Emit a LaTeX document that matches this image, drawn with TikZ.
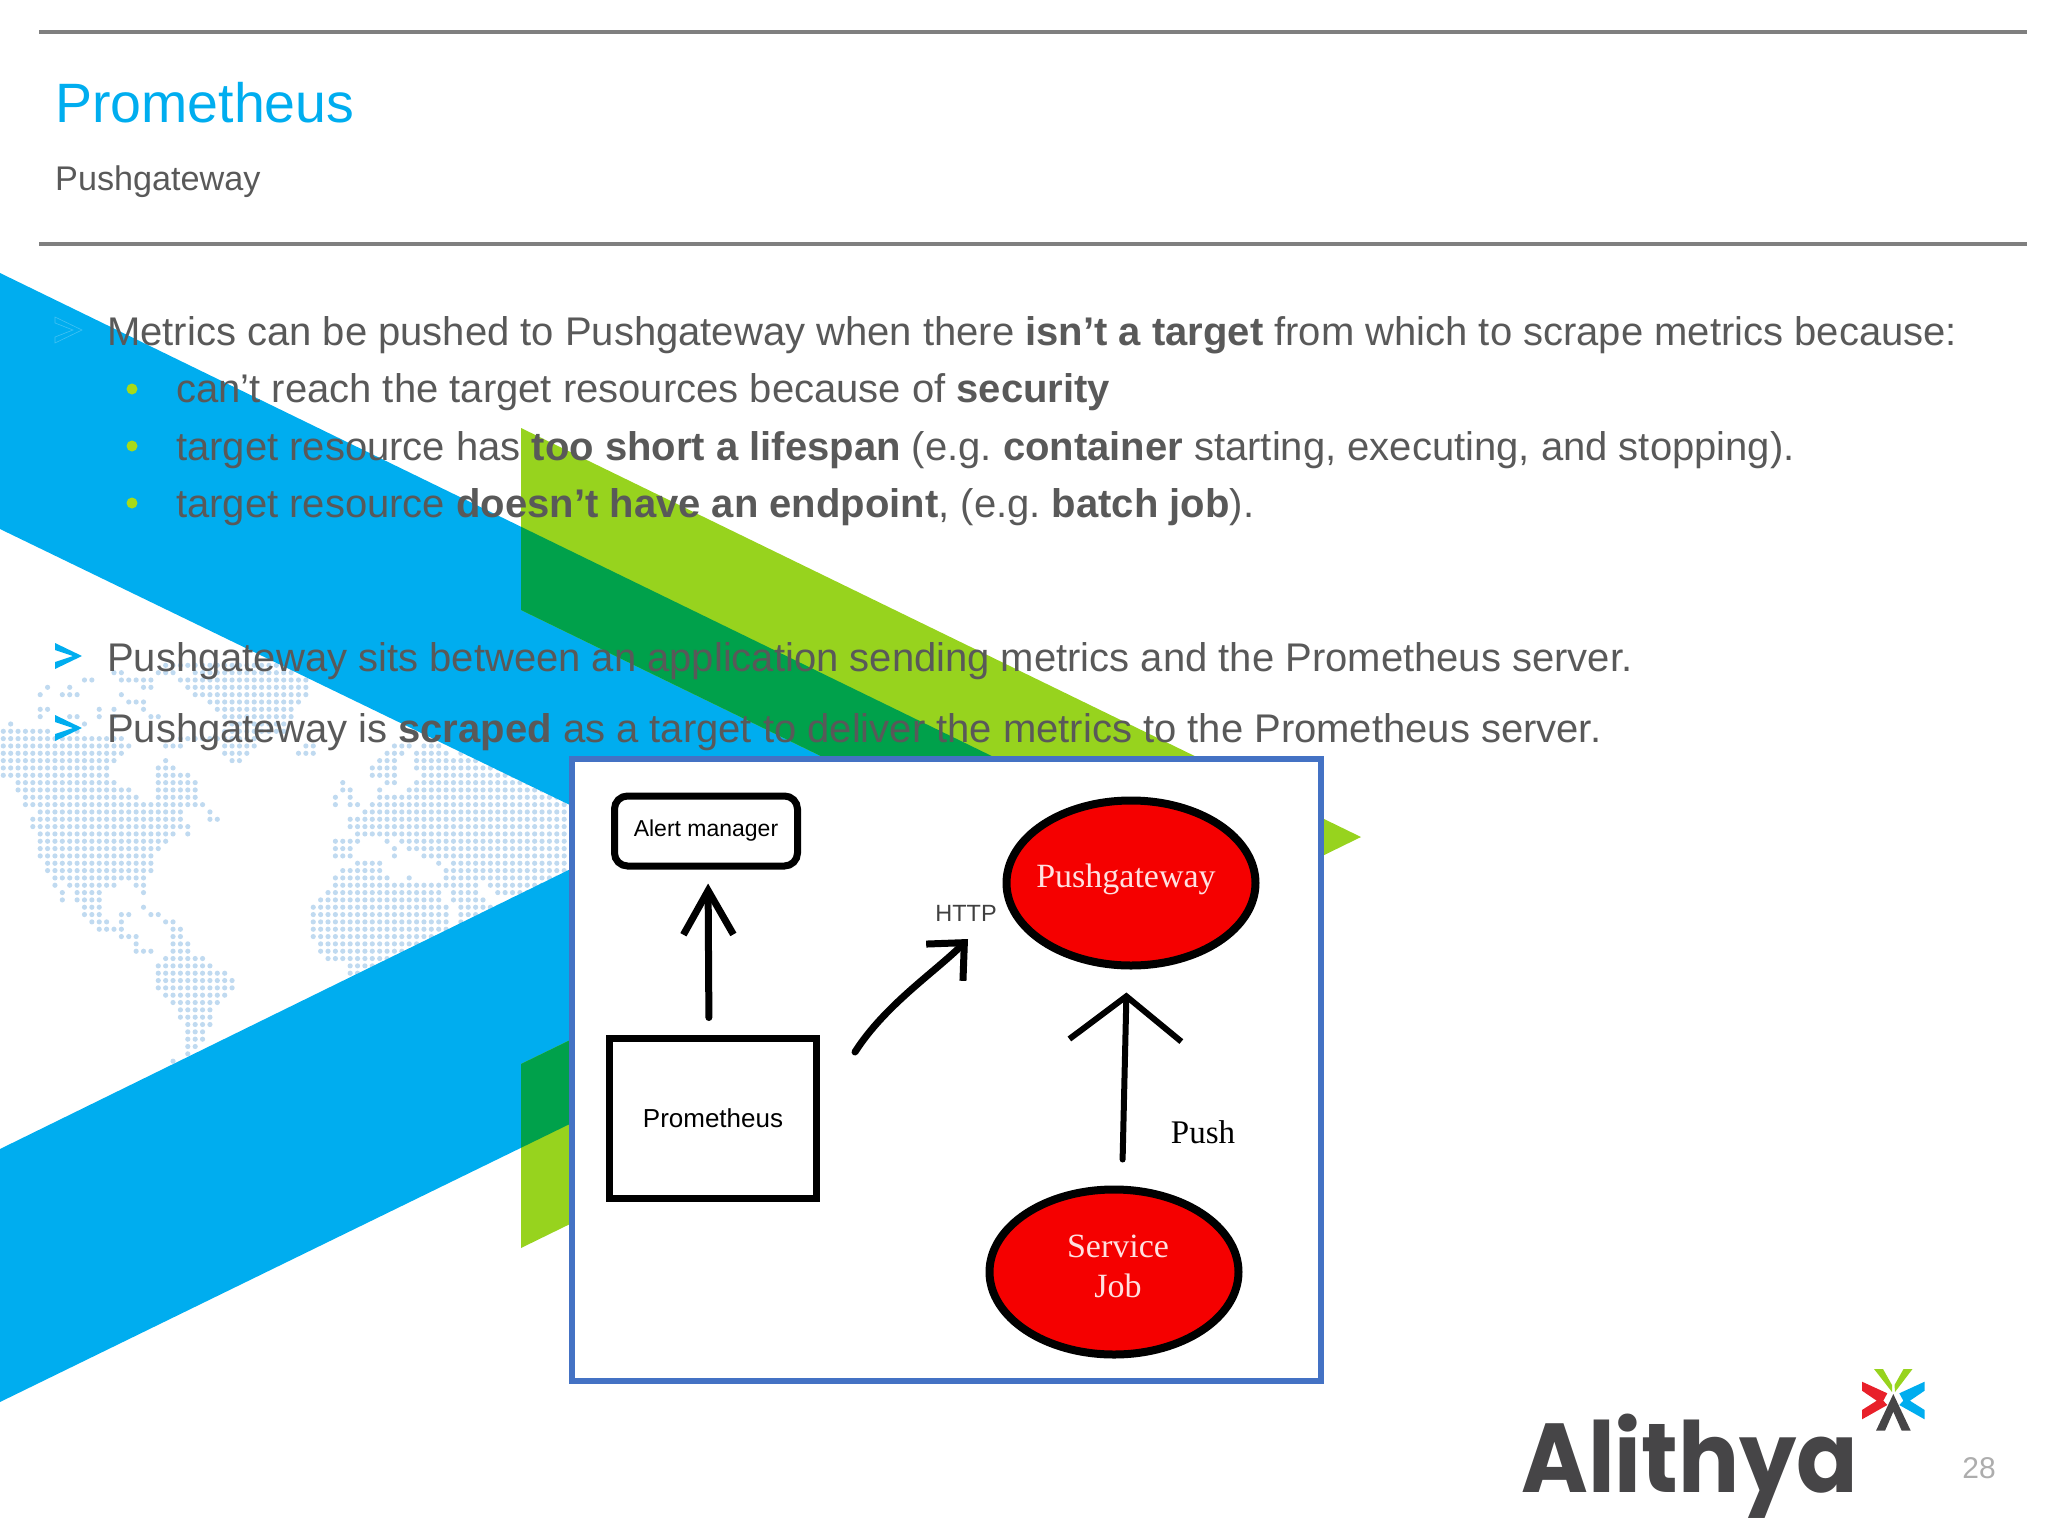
\documentclass[tikz,border=0pt]{standalone}
\usepackage{fontspec}
\setmainfont{Liberation Sans}
\newfontfamily\paintfont{Liberation Serif}
\newfontfamily\logofont{Poppins}
\usetikzlibrary{arrows.meta,shapes.geometric}
\definecolor{skyblue}{HTML}{00ADEF}
\definecolor{leafgreen}{HTML}{97D31E}
\definecolor{deepgreen}{HTML}{00A14B}
\definecolor{slategrey}{HTML}{595959}
\definecolor{rulegrey}{HTML}{7F7F7F}
\definecolor{mapblue}{HTML}{C0DAF0}
\definecolor{framblue}{HTML}{4472C4}
\definecolor{logogrey}{HTML}{464547}
\definecolor{logored}{HTML}{E8202A}
\frenchspacing
\tikzset{
  bodytext/.style={anchor=base west, inner sep=0pt, text=slategrey, font=\fontsize{40}{46}\selectfont},
  mapdot/.style={fill=mapblue},
  blob/.style={ellipse, draw=black, line width=8pt, fill=red!96!black, minimum width=249pt, minimum height=165pt, inner sep=0pt},
  blobtext/.style={inner sep=0pt, text=red!12!white, align=center, font=\paintfont\fontsize{34}{40}\selectfont},
  pen/.style={line width=7pt, line cap=round, draw=black},
}
\begin{document}
\begin{tikzpicture}[x=1pt, y=-1pt]
  \useasboundingbox (0,0) rectangle (2048,1536);
  % world map
  \foreach \r/\a/\b in {-2/22/37,-1/15/16,-1/21/23,-1/26/39,0/11/12,0/16/20,0/24/41,1/6/6,1/9/9,1/19/20,1/25/41,
      2/5/5,2/8/10,2/16/16,2/26/41,3/17/19,3/28/40,4/5/6,4/13/13,4/15/15,4/19/19,4/29/39,5/5/5,5/9/10,5/13/13,5/15/15,5/20/21,5/30/39,
      6/1/1,6/11/11,6/31/38,7/0/6,7/9/10,7/30/38,8/0/16,8/24/34,9/0/17,9/22/24,9/30/34,9/41/42,9/53/55,9/57/59,
      10/0/16,10/30/33,10/40/42,10/52/54,10/56/60,10/62/66,11/0/15,11/22/22,11/31/32,11/51/53,11/56/64,
      12/0/14,12/21/23,12/50/53,12/56/70,13/0/14,13/21/25,13/50/53,13/57/72,14/2/15,14/21/26,14/46/46,14/52/53,14/56/76,
      15/2/17,15/21/26,15/46/47,15/51/51,15/55/76,16/3/18,16/21/26,16/45/45,16/47/47,16/51/76,17/3/27,17/45/45,17/47/48,17/50/76,
      18/5/24,18/28/28,18/49/76,19/4/24,19/28/29,19/47/76,20/4/25,20/47/76,21/5/23,21/25/25,21/48/76,22/5/22,22/45/48,22/52/52,22/54/76,
      23/5/21,23/45/47,23/53/53,23/55/76,24/5/20,24/45/47,24/53/53,24/57/76,25/6/20,25/48/51,25/59/59,25/61/76,26/6/20,26/46/51,26/60/76,
      27/7/19,27/45/52,27/55/55,27/60/76,28/7/7,28/9/15,28/18/19,28/45/64,28/66/76,29/8/8,29/10/13,29/19/19,29/44/59,29/61/64,29/67/71,
      30/8/8,30/10/13,30/43/59,30/61/65,30/69/69,31/11/13,31/19/19,31/42/60,31/62/67,32/11/13,32/16/17,32/20/21,32/42/60,32/62/65,
      33/12/14,33/16/16,33/22/23,33/42/60,33/62/63,34/13/16,34/23/24,34/42/61,35/16/18,35/23/24,35/42/59,36/18/18,36/23/25,36/43/57,
      37/18/20,37/23/25,37/43/55,38/22/27,38/44/53,39/21/28,39/47/51,40/21/30,40/47/49,41/21/31,42/21/31,43/22/30,44/23/29,45/24/28,
      46/24/28,47/25/28,48/25/27,49/25/27,50/25/26,51/25/25,52/23/23}{
    \foreach \k in {\a,...,\b}
      \fill[mapdot] ({3.3+7.38*\k},{680+7.33*\r}) circle (2.6pt);
  }
  % big chevrons
  \fill[skyblue] (0,273) -- (1158,837) -- (0,1402) -- (0,1149) -- (636,837) -- (0,529) -- cycle;
  \fill[leafgreen] (521,428) -- (1361,837) -- (521,1248) -- (521,1064) -- (987,837) -- (521,610) -- cycle;
  \begin{scope}
    \clip (0,273) -- (1158,837) -- (0,1402) -- (0,1149) -- (636,837) -- (0,529) -- cycle;
    \fill[deepgreen] (521,428) -- (1361,837) -- (521,1248) -- (521,1064) -- (987,837) -- (521,610) -- cycle;
  \end{scope}
  % header
  \draw[rulegrey, line width=3.5pt] (39,32) -- (2027,32);
  \draw[rulegrey, line width=3.5pt] (39,244) -- (2027,244);
  \node[anchor=base west, inner sep=0pt, text=skyblue, font=\fontsize{55.5}{60}\selectfont] (title) at (55,123) {Prometheus};
  \node[anchor=base west, inner sep=0pt, text=slategrey, font=\fontsize{34.2}{40}\selectfont] (subtitle) at (55,190) {Pushgateway};
  % bullets
  \foreach \y in {656,728}
    \fill[skyblue] (55,\y-13) -- (82,\y) -- (55,\y+13) -- (55,\y+6) -- (73,\y) -- (55,\y-6) -- cycle;
  \draw[white, opacity=.25, line width=.6pt] (55,317) -- (82,330) -- (55,343) -- (55,337) -- (73,330) -- (55,323) -- cycle;
  \foreach \y in {389,446,503}
    \fill[leafgreen!85!yellow] (132,\y) circle (5.5pt);
  \node[bodytext] (metrics) at (107,345) {Metrics can be pushed to Pushgateway when there {\bfseries isn’t a target} from which to scrape metrics because:};
  \node[bodytext] (reach) at (176,402.5) {can’t reach the target resources because of {\bfseries security}};
  \node[bodytext] (lifespan) at (176,460) {target resource has {\bfseries too short a lifespan} (e.g. {\bfseries container} starting, executing, and stopping).};
  \node[bodytext] (endpoint) at (176,517) {target resource {\bfseries doesn’t have an endpoint}, (e.g. {\bfseries batch job}).};
  \node[bodytext] (sits) at (107,671) {Pushgateway sits between an application sending metrics and the Prometheus server.};
  \node[bodytext] (scraped) at (107,742) {Pushgateway is {\bfseries scraped} as a target to deliver the metrics to the Prometheus server.};
  % picture frame
  \node[draw=framblue, fill=white, line width=6pt, minimum width=749pt, minimum height=622pt, inner sep=0pt] (frame) at (946,1070) {};
  \node[draw=black, line width=7pt, rounded corners=13pt, minimum width=183pt, minimum height=70pt, inner sep=0pt, font=\fontsize{23}{26}\selectfont] (alert) at (706,831) {Alert manager};
  \node[draw=black, line width=7pt, minimum width=207pt, minimum height=160pt, inner sep=0pt, font=\fontsize{26}{30}\selectfont] (prom) at (713,1118) {Prometheus};
  \node[blob] (gate) at (1131,883) {};
  \node[blobtext] (gatelabel) at (1126,879) {Pushgateway};
  \node[blob] (job) at (1114,1272) {};
  \node[blobtext] (joblabel) at (1118,1266) {Service\\Job};
  \node[inner sep=0pt, text=black!75, font=\fontsize{23.5}{26}\selectfont] (http) at (966,913) {HTTP};
  \node[inner sep=0pt, font=\paintfont\fontsize{33}{36}\selectfont] (push) at (1203,1132) {Push};
  \coordinate (httpfrom) at (855,1052);
  \coordinate (httpto) at (968,939);
  \draw[pen, -{Straight Barb[length=44pt, width=50pt, line width=7pt]}, shorten <=17pt, shorten >=14pt] ([xshift=-4pt]prom.north) -- ([xshift=2pt]alert.south);
  \draw[pen, -{Straight Barb[length=28pt, width=52pt, line width=7pt]}] (httpfrom) .. controls (885,1005) and (935,972) .. (httpto);
  \draw[pen, line width=6pt, -{Straight Barb[length=44pt, width=112pt, line width=6pt]}, shorten <=26pt, shorten >=23pt] ([xshift=8pt]job.north) -- ([xshift=-4pt]gate.south);
  % logo
  \node[anchor=base west, inner sep=0pt, text=logogrey, xscale=.925, font=\logofont\bfseries\fontsize{98}{100}\selectfont] (logo) at (1521,1492) {Alithya};
  \fill[leafgreen] (1874,1369) -- (1883,1369) -- (1892,1385) -- (1892,1392) -- cycle;
  \fill[leafgreen] (1912.5,1369) -- (1903.5,1369) -- (1894.5,1385) -- (1895,1392) -- cycle;
  \fill[logored] (1862,1381.7) -- (1887.3,1393.3) -- (1883.3,1400.7) -- (1887.3,1405) -- (1862,1419.3) -- (1862,1410) -- (1876.7,1400.7) -- (1862,1390.7) -- cycle;
  \fill[skyblue] (1924.6,1381.7) -- (1899.3,1393.3) -- (1903.3,1400.7) -- (1899.3,1405) -- (1924.6,1419.3) -- (1924.6,1410) -- (1909.9,1400.7) -- (1924.6,1390.7) -- cycle;
  \fill[logogrey] (1893.3,1394) -- (1876,1430.7) -- (1885,1430.7) -- (1893.3,1411.7) -- (1901.7,1430.7) -- (1910.7,1430.7) -- cycle;
  \node[inner sep=0pt, text=black!32, font=\fontsize{30}{32}\selectfont] (pageno) at (1979,1468) {28};
\end{tikzpicture}
\end{document}
